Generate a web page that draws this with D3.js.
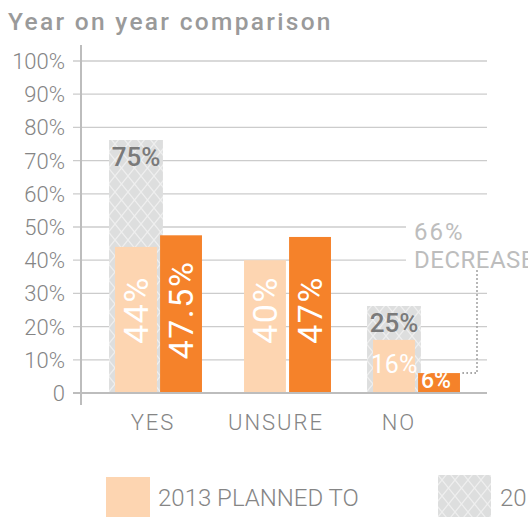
<!DOCTYPE html>
<html>
<head>
<meta charset="utf-8">
<script src="https://cdn.jsdelivr.net/npm/d3@7"></script>
<style>
  body { margin: 0; background: #fff; }
  svg { display: block; font-family: Roboto, "DejaVu Sans", sans-serif; }
</style>
</head>
<body>
<script>
// chart data
const categories = ["YES", "UNSURE", "NO"];
const planned2013 = [44, 40, 16];
const planned2014 = [47.5, 47, 6];
const actual2013 = [75, null, 25];
const yTicks = [0, 10, 20, 30, 40, 50, 60, 70, 80, 90, 100];
const yTickLabels = ["0", "10%", "20%", "30%", "40%", "50%", "60%", "70%", "80%", "90%", "100%"];
const legendLabels = ["2013 PLANNED TO", "2013 ACTUAL"];
const noteLines = ["66%", "DECREASE"];

const fmt = v => `${v}%`;

const W = 528, H = 517;
const svg = d3.select("body").append("svg")
    .attr("width", W)
    .attr("height", H);

// diamond lattice for the grey series
const defs = svg.append("defs");
const pat = defs.append("pattern")
    .attr("id", "lattice")
    .attr("patternUnits", "userSpaceOnUse")
    .attr("width", 13).attr("height", 16);
pat.append("rect").attr("width", 13).attr("height", 16).attr("fill", "#dddede");
pat.append("path")
    .attr("d", "M0,0L13,16M13,0L0,16")
    .attr("stroke", "#efefef").attr("stroke-width", 1.3).attr("fill", "none");

const y = d3.scaleLinear().domain([0, 100]).range([393, 61]);
const x0 = d3.scaleBand().domain(categories)
    .range([94, 481]).paddingInner(0.326).paddingOuter(0.163);
const x1 = d3.scaleBand().domain(["a", "b"])
    .range([0, x0.bandwidth()]).paddingInner(0.07);
const labelX = d3.scalePoint().domain(categories).range([153, 399]);

// title
svg.append("text")
    .attr("x", 8).attr("y", 30)
    .attr("font-size", 24.5).attr("font-weight", 500)
    .attr("letter-spacing", 2.3)
    .attr("fill", "#9a9a9a")
    .text("Year on year comparison");

// grid
svg.append("g").selectAll("line")
    .data(yTicks.filter(d => d > 0))
    .join("line")
    .attr("x1", 73).attr("x2", 487)
    .attr("y1", d => y(d)).attr("y2", d => y(d))
    .attr("stroke", "#cccccc").attr("stroke-width", 1.3);

// y axis labels
svg.append("g").selectAll("text")
    .data(yTicks)
    .join("text")
    .attr("x", 65).attr("y", d => y(d) + 8)
    .attr("text-anchor", "end")
    .attr("font-size", 22).attr("font-weight", 300)
    .attr("fill", "#858585")
    .text((d, i) => yTickLabels[i]);

// annotation backing + text
svg.append("rect").attr("x", 406).attr("y", 214).attr("width", 122).attr("height", 58).attr("fill", "#fff");
svg.append("g").selectAll("text")
    .data(noteLines)
    .join("text")
    .attr("x", 414)
    .attr("y", (d, i) => 240 + i * 28)
    .attr("font-size", 24).attr("font-weight", 400)
    .attr("letter-spacing", (d, i) => i === 0 ? 2 : 0.5)
    .attr("fill", "#bdbdbd")
    .text(d => d);

// dotted connector from the note to the small bar
const noX = x0("NO") + x1("b") + x1.bandwidth();
svg.append("path")
    .attr("d", `M477,${y(37)}V${y(6)}H${noX}`)
    .attr("fill", "none")
    .attr("stroke", "#a0a0a0").attr("stroke-width", 2)
    .attr("stroke-dasharray", "1.5,2.5");

// bars
const groups = svg.append("g").selectAll("g")
    .data(categories.map((c, i) => ({ c, a: actual2013[i], p: planned2013[i], q: planned2014[i] })))
    .join("g")
    .attr("transform", d => `translate(${x0(d.c)},0)`);

groups.filter(d => d.a != null).append("rect")
    .attr("x", x1("a") - 6)
    .attr("width", x1.bandwidth() + 12)
    .attr("y", d => y(d.a) - 4)
    .attr("height", d => y(0) - y(d.a) + 4)
    .attr("fill", "url(#lattice)");

groups.append("rect")
    .attr("x", x1("a")).attr("width", x1.bandwidth())
    .attr("y", d => y(d.p)).attr("height", d => y(0) - y(d.p))
    .attr("fill", "#fdd5b1");

groups.append("rect")
    .attr("x", x1("b")).attr("width", x1.bandwidth())
    .attr("y", d => y(d.q)).attr("height", d => y(0) - y(d.q))
    .attr("fill", "#f5822a");

// grey series labels
groups.filter(d => d.a != null).append("text")
    .attr("x", x1("a") + x1.bandwidth() / 2)
    .attr("y", d => y(d.a) + 22)
    .attr("text-anchor", "middle")
    .attr("font-size", 26).attr("font-weight", 500)
    .attr("fill", "#7a7a7a")
    .text(d => fmt(d.a));

// value labels: vertical when the bar is tall, flat otherwise
function valueLabel(sel, key, band) {
    const cx = x1(band) + x1.bandwidth() / 2;
    sel.filter(d => d[key] >= 30).append("text")
        .attr("transform", `translate(${cx + 12},${y(25)}) rotate(-90)`)
        .attr("text-anchor", "middle")
        .attr("font-size", 34).attr("font-weight", 400)
        .attr("letter-spacing", 1.5)
        .attr("fill", "#fff")
        .text(d => fmt(d[key]));
}
valueLabel(groups, "p", "a");
valueLabel(groups, "q", "b");

groups.filter(d => d.p < 30).append("text")
    .attr("x", x1("a") + x1.bandwidth() / 2)
    .attr("y", d => y(d.p) + 33)
    .attr("text-anchor", "middle")
    .attr("font-size", 25).attr("font-weight", 400)
    .attr("fill", "#fff")
    .text(d => fmt(d.p));

groups.filter(d => d.q < 30).append("text")
    .attr("x", x1("b") + x1.bandwidth() / 2 - 3)
    .attr("y", y(0) - 5)
    .attr("text-anchor", "middle")
    .attr("font-size", 23).attr("font-weight", 500)
    .attr("fill", "#fff")
    .text(d => fmt(d.q));

// axes lines
svg.append("line")
    .attr("x1", 81).attr("x2", 81).attr("y1", 45).attr("y2", 405)
    .attr("stroke", "#bdbdbd").attr("stroke-width", 2);
svg.append("line")
    .attr("x1", 73).attr("x2", 487).attr("y1", y(0)).attr("y2", y(0))
    .attr("stroke", "#bdbdbd").attr("stroke-width", 2);

// category labels
svg.append("g").selectAll("text")
    .data(categories)
    .join("text")
    .attr("x", d => labelX(d)).attr("y", 430)
    .attr("text-anchor", "middle")
    .attr("font-size", 22).attr("font-weight", 300)
    .attr("letter-spacing", 2)
    .attr("fill", "#858585")
    .text(d => d);

// legend
const legend = svg.append("g");
legend.append("rect").attr("x", 106).attr("y", 477).attr("width", 44).attr("height", 40).attr("fill", "#fdd5b1");
legend.append("rect").attr("x", 438).attr("y", 475).attr("width", 53).attr("height", 42).attr("fill", "url(#lattice)");
legend.selectAll("text.lg")
    .data(legendLabels)
    .join("text")
    .attr("class", "lg")
    .attr("x", (d, i) => i === 0 ? 158 : 500)
    .attr("y", 506)
    .attr("font-size", 24).attr("font-weight", 300)
    .attr("fill", "#858585")
    .text(d => d);
</script>
</body>
</html>
